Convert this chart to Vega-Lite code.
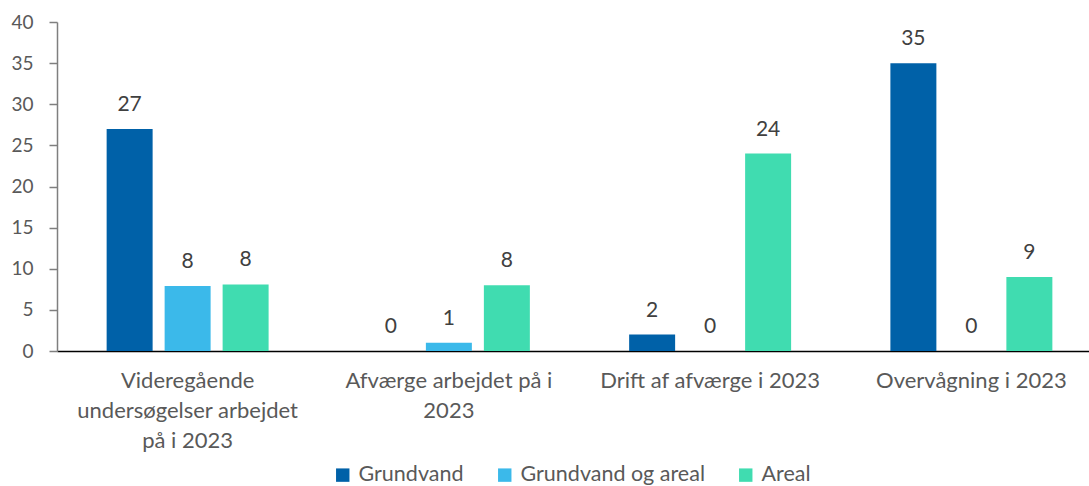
{
  "$schema": "https://vega.github.io/schema/vega-lite/v6.json",
  "width": 1045,
  "height": 329,
  "autosize": {"type": "none"},
  "padding": {"left": 57, "top": 22, "right": 0, "bottom": 135},
  "background": "white",
  "config": {"view": {"stroke": null}, "font": "Lato"},
  "data": {
    "values": [
      {"kategori": "Videregående undersøgelser arbejdet på i 2023", "serie": "Grundvand", "antal": 27},
      {"kategori": "Videregående undersøgelser arbejdet på i 2023", "serie": "Grundvand og areal", "antal": 7.9},
      {"kategori": "Videregående undersøgelser arbejdet på i 2023", "serie": "Areal", "antal": 8.1},
      {"kategori": "Afværge arbejdet på i 2023", "serie": "Grundvand", "antal": 0},
      {"kategori": "Afværge arbejdet på i 2023", "serie": "Grundvand og areal", "antal": 1},
      {"kategori": "Afværge arbejdet på i 2023", "serie": "Areal", "antal": 8},
      {"kategori": "Drift af afværge i 2023", "serie": "Grundvand", "antal": 2},
      {"kategori": "Drift af afværge i 2023", "serie": "Grundvand og areal", "antal": 0},
      {"kategori": "Drift af afværge i 2023", "serie": "Areal", "antal": 24},
      {"kategori": "Overvågning i 2023", "serie": "Grundvand", "antal": 35},
      {"kategori": "Overvågning i 2023", "serie": "Grundvand og areal", "antal": 0},
      {"kategori": "Overvågning i 2023", "serie": "Areal", "antal": 9}
    ]
  },
  "encoding": {
    "x": {
      "field": "kategori",
      "type": "nominal",
      "sort": null,
      "title": null,
      "scale": {"paddingInner": 0.38, "paddingOuter": 0.19},
      "axis": {
        "labelAngle": 0,
        "domainColor": "#000000",
        "domainWidth": 1.5,
        "ticks": false,
        "labelColor": "#595959",
        "labelFontSize": 22,
        "labelPadding": 19,
        "labelBaseline": "top",
        "labelLineHeight": 30,
        "labelLimit": 400,
        "labelExpr": "datum.value == 'Videregående undersøgelser arbejdet på i 2023' ? ['Videregående', 'undersøgelser arbejdet', 'på i 2023'] : datum.value == 'Afværge arbejdet på i 2023' ? ['Afværge arbejdet på i', '2023'] : datum.label"
      }
    },
    "xOffset": {
      "field": "serie",
      "type": "nominal",
      "sort": ["Grundvand", "Grundvand og areal", "Areal"],
      "scale": {"paddingInner": 0.207, "paddingOuter": 0}
    },
    "y": {
      "field": "antal",
      "type": "quantitative",
      "title": null,
      "scale": {"domain": [0, 40]},
      "axis": {
        "values": [0, 5, 10, 15, 20, 25, 30, 35, 40],
        "grid": false,
        "domainColor": "#7f7f7f",
        "domainWidth": 1.5,
        "tickColor": "#7f7f7f",
        "tickSize": 8,
        "tickWidth": 1.5,
        "labelColor": "#595959",
        "labelFontSize": 19,
        "labelPadding": 16
      }
    }
  },
  "layer": [
    {
      "mark": {"type": "bar"},
      "encoding": {
        "color": {
          "field": "serie",
          "type": "nominal",
          "sort": ["Grundvand", "Grundvand og areal", "Areal"],
          "scale": {
            "domain": ["Grundvand", "Grundvand og areal", "Areal"],
            "range": ["#0061a8", "#3bb9ea", "#40dcb0"]
          },
          "legend": {
            "title": null,
            "orient": "none",
            "direction": "horizontal",
            "legendX": 275,
            "legendY": 442,
            "symbolType": "square",
            "symbolSize": 180,
            "symbolStrokeWidth": 0,
            "labelFontSize": 21.5,
            "labelColor": "#595959",
            "labelLimit": 400,
            "columnPadding": 30,
            "labelOffset": 5
          }
        }
      }
    },
    {
      "mark": {"type": "text", "baseline": "alphabetic", "dy": -18, "fontSize": 21, "color": "#404040"},
      "encoding": {
        "text": {"field": "antal", "type": "quantitative", "format": ".0f"}
      }
    }
  ]
}
